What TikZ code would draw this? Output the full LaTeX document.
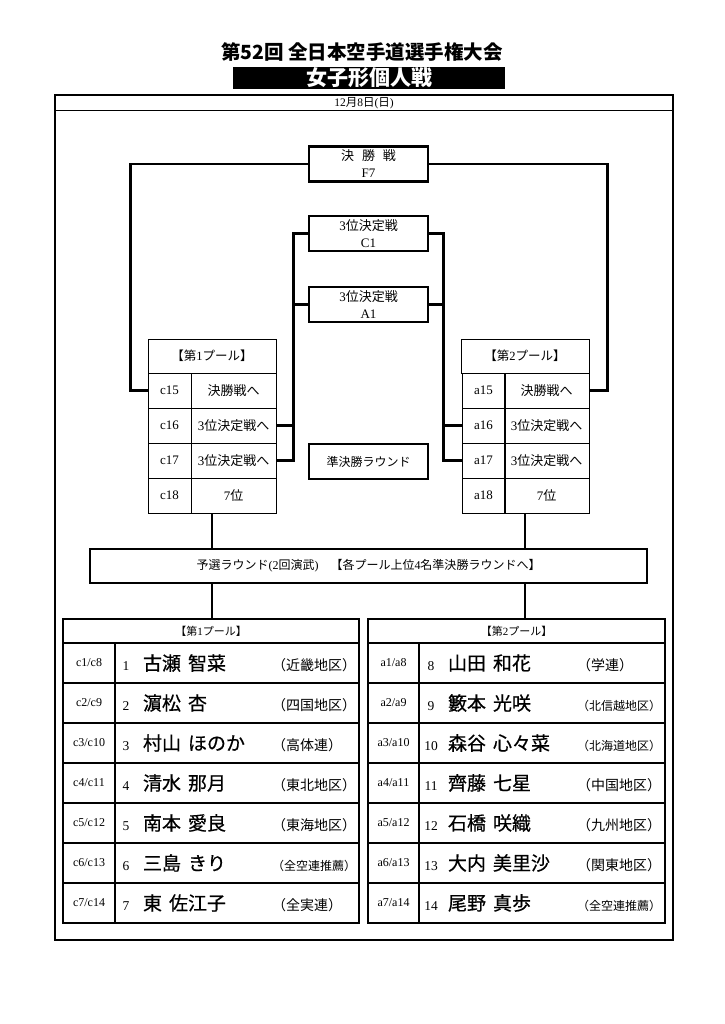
\documentclass[tikz,border=0pt]{standalone}
\usepackage{fontspec}
\setmainfont{Noto Sans CJK JP}
\newfontfamily\lat{Liberation Serif}
\newfontfamily\namefont{Noto Sans CJK JP}[FakeBold=0.5]
\usetikzlibrary{positioning}

\newcommand\player[4]{\hbox to 240pt{\makebox[18pt]{\lat\fontsize{13.5}{13.5}\selectfont #1}\hspace{8pt}\makebox[129pt][l]{\namefont\fontsize{19}{19}\selectfont #2\hspace{7pt}#3}#4\hss}}
\newcommand\club[1]{{\fontsize{14}{14}\selectfont （#1）}}
\newcommand\longclub[1]{{\fontsize{12}{12}\selectfont （#1）}}

\tikzset{
  heavy/.style={line width=2.2pt},
  match/.style={draw, heavy, minimum width=119, minimum height=35, inner sep=0, align=center, font=\fontsize{13}{17}\selectfont},
  poolhead/.style={draw, line width=1pt, minimum width=128, minimum height=34, inner sep=0, font=\fontsize{12.5}{12.5}\selectfont},
  poolcode/.style={draw, line width=1pt, minimum width=43, minimum height=35, inner sep=0, font=\lat\fontsize{13}{13}\selectfont},
  pooltext/.style={draw, line width=1pt, minimum width=85, minimum height=35, inner sep=0, font=\fontsize{13}{13}\selectfont},
  tabhead/.style={draw, line width=1.2pt, minimum width=296, minimum height=24, inner sep=0, font=\fontsize{11}{11}\selectfont},
  tabcode/.style={draw, line width=1.2pt, minimum width=52, minimum height=40, inner sep=0, font=\lat\fontsize{12}{12}\selectfont},
  tabname/.style={draw, line width=1.2pt, minimum width=244, minimum height=40, inner sep=0},
}

\begin{document}
\begin{tikzpicture}[x=1pt,y=-1pt]
\useasboundingbox (0,0) rectangle (724,1024);
% heading
\node[font=\bfseries\fontsize{19.5}{19.5}\selectfont] (title) at (362,52) {第52回 全日本空手道選手権大会};
\node[fill=black, text=white, minimum width=272, minimum height=22, inner sep=0, font=\bfseries\fontsize{21}{21}\selectfont] (event) at (369,78) {女子形個人戦};
\draw[heavy] (55,95) rectangle (673,940);
\draw[line width=1pt] (55,111) -- (673,111);
\node[font=\fontsize{11.5}{11.5}\selectfont] (date) at (364,103) {{\lat 12}月{\lat 8}日{\lat(}日{\lat)}};

% finals
\node[match] (f7) at (368.5,164) {決\hspace{0.6em}勝\hspace{0.6em}戦\\{\lat F7}};
\node[match] (c1) at (368.5,233.5) {{\lat 3}位決定戦\\{\lat C1}};
\node[match] (a1) at (368.5,304.5) {{\lat 3}位決定戦\\{\lat A1}};
\node[match, font=\fontsize{12}{12}\selectfont] (semi) at (368.5,461.5) {準決勝ラウンド};

% pool 1
\node[poolhead] (p1h) at (212,356) {【第{\lat 1}プール】};
\node[poolcode] (c15) at (169.5,390.5) {c15};
\node[pooltext] (c15t) at (233.5,390.5) {決勝戦へ};
\node[poolcode] (c16) at (169.5,425.5) {c16};
\node[pooltext] (c16t) at (233.5,425.5) {{\lat 3}位決定戦へ};
\node[poolcode] (c17) at (169.5,460.5) {c17};
\node[pooltext] (c17t) at (233.5,460.5) {{\lat 3}位決定戦へ};
\node[poolcode] (c18) at (169.5,495.5) {c18};
\node[pooltext] (c18t) at (233.5,495.5) {{\lat 7}位};

% pool 2
\node[poolhead] (p2h) at (525,356) {【第{\lat 2}プール】};
\node[poolcode] (a15) at (483.5,390.5) {a15};
\node[pooltext] (a15t) at (546.5,390.5) {決勝戦へ};
\node[poolcode] (a16) at (483.5,425.5) {a16};
\node[pooltext] (a16t) at (546.5,425.5) {{\lat 3}位決定戦へ};
\node[poolcode] (a17) at (483.5,460.5) {a17};
\node[pooltext] (a17t) at (546.5,460.5) {{\lat 3}位決定戦へ};
\node[poolcode] (a18) at (483.5,495.5) {a18};
\node[pooltext] (a18t) at (546.5,495.5) {{\lat 7}位};

\draw[heavy] (c15.west) -- ++(-17,0) |- (f7.west);
\draw[heavy] (a15t.east) -- ++(18,0) |- (f7.east);
\draw[heavy] (c17t.east) -- ++(17,0) |- (c1.west);
\draw[heavy] (c16t.east) -- ++(17,0);
\draw[heavy] (a1.west) -- ++(-16,0);
\draw[heavy] (a17.west) -- ++(-18,0) |- (c1.east);
\draw[heavy] (a16.west) -- ++(-18,0);
\draw[heavy] (a1.east) -- ++(16,0);

% preliminary round
\node[draw, heavy, minimum width=557, minimum height=34, inner sep=0, font=\fontsize{12}{12}\selectfont] (prelim) at (368.5,566) {予選ラウンド{\lat(2}回演武{\lat)}\hspace{12pt}【各プール上位{\lat 4}名準決勝ラウンドへ】};

% entry tables
\node[tabhead] (t1h) at (211,631) {【第{\lat 1}プール】};
\node[tabcode] (e1) at (89,663) {c1/c8};
\node[tabname] (n1) at (237,663) {\player{1}{古瀬}{智菜}{\club{近畿地区}}};
\node[tabcode] (e2) at (89,703) {c2/c9};
\node[tabname] (n2) at (237,703) {\player{2}{濵松}{杏}{\club{四国地区}}};
\node[tabcode] (e3) at (89,743) {c3/c10};
\node[tabname] (n3) at (237,743) {\player{3}{村山}{ほのか}{\club{高体連}}};
\node[tabcode] (e4) at (89,783) {c4/c11};
\node[tabname] (n4) at (237,783) {\player{4}{清水}{那月}{\club{東北地区}}};
\node[tabcode] (e5) at (89,823) {c5/c12};
\node[tabname] (n5) at (237,823) {\player{5}{南本}{愛良}{\club{東海地区}}};
\node[tabcode] (e6) at (89,863) {c6/c13};
\node[tabname] (n6) at (237,863) {\player{6}{三島}{きり}{\longclub{全空連推薦}}};
\node[tabcode] (e7) at (89,903) {c7/c14};
\node[tabname] (n7) at (237,903) {\player{7}{東}{佐江子}{\club{全実連}}};

\node[tabhead, minimum width=297] (t2h) at (516.5,631) {【第{\lat 2}プール】};
\node[tabcode, minimum width=51] (e8) at (393.5,663) {a1/a8};
\node[tabname, minimum width=246] (n8) at (542,663) {\player{8}{山田}{和花}{\club{学連}}};
\node[tabcode, minimum width=51] (e9) at (393.5,703) {a2/a9};
\node[tabname, minimum width=246] (n9) at (542,703) {\player{9}{籔本}{光咲}{\longclub{北信越地区}}};
\node[tabcode, minimum width=51] (e10) at (393.5,743) {a3/a10};
\node[tabname, minimum width=246] (n10) at (542,743) {\player{10}{森谷}{心々菜}{\longclub{北海道地区}}};
\node[tabcode, minimum width=51] (e11) at (393.5,783) {a4/a11};
\node[tabname, minimum width=246] (n11) at (542,783) {\player{11}{齊藤}{七星}{\club{中国地区}}};
\node[tabcode, minimum width=51] (e12) at (393.5,823) {a5/a12};
\node[tabname, minimum width=246] (n12) at (542,823) {\player{12}{石橋}{咲織}{\club{九州地区}}};
\node[tabcode, minimum width=51] (e13) at (393.5,863) {a6/a13};
\node[tabname, minimum width=246] (n13) at (542,863) {\player{13}{大内}{美里沙}{\club{関東地区}}};
\node[tabcode, minimum width=51] (e14) at (393.5,903) {a7/a14};
\node[tabname, minimum width=246] (n14) at (542,903) {\player{14}{尾野}{真歩}{\longclub{全空連推薦}}};

\draw[heavy] (p1h |- c18.south) -- (p1h |- prelim.north);
\draw[heavy] (p2h |- a18.south) -- (p2h |- prelim.north);
\draw[heavy] (p1h |- prelim.south) -- (p1h |- t1h.north);
\draw[heavy] (p2h |- prelim.south) -- (p2h |- t2h.north);
\end{tikzpicture}
\end{document}
